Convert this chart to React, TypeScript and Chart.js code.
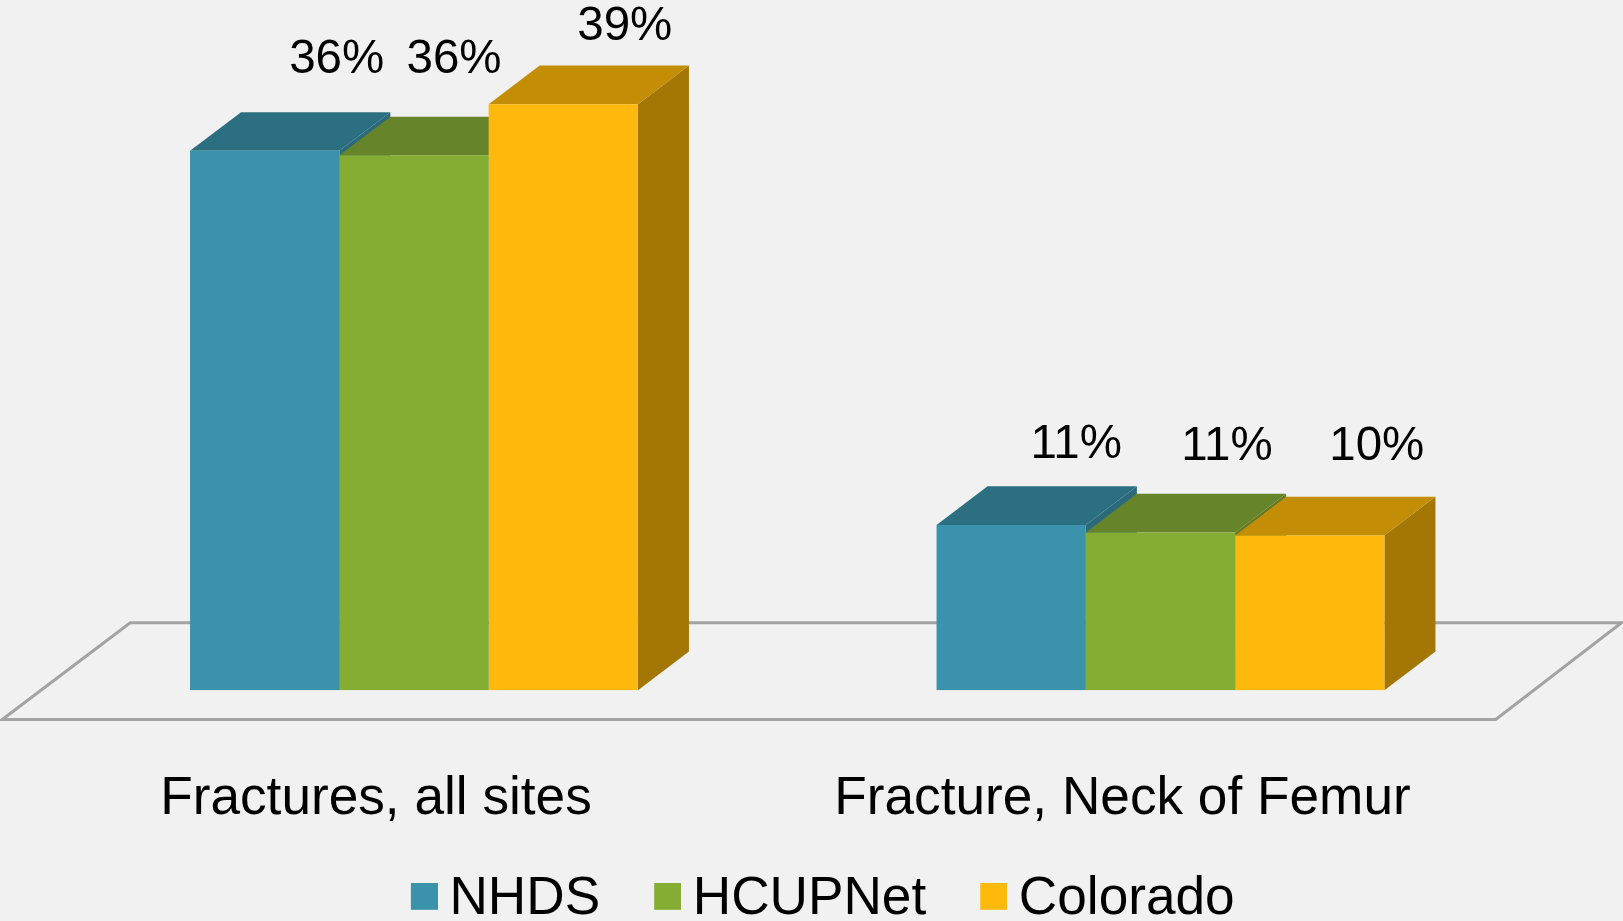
import React, { useEffect, useRef } from "react";
import { Chart, registerables } from "chart.js";

Chart.register(...registerables);

const categories = ["Fractures, all sites", "Fracture, Neck of Femur"];
const seriesNames = ["NHDS", "HCUPNet", "Colorado"];
const nhdsValues = [35.9, 11.0];
const hcupValues = [35.6, 10.5];
const coloradoValues = [39.0, 10.3];
const nhdsLabels = ["36%", "11%"];
const hcupLabels = ["36%", "11%"];
const coloradoLabels = ["39%", "10%"];

// label placement relative to the bar: [centre offset x, baseline offset y]
const nhdsLabelOffsets = [[72, -77.5], [65, -67]];
const hcupLabelOffsets = [[40, -82.5], [66.5, -72.7]];
const coloradoLabelOffsets = [[61.5, -64], [67, -75.7]];

const FONT = '"Liberation Sans", Arial, sans-serif';
const BACKGROUND = "#f1f1f1";
const DEPTH_X = 51;
const DEPTH_Y = 38.6;

const frontColors = ["#3a93aa", "#86ad33", "#ffb80c"];
const topColors = ["#2c6f81", "#66842a", "#c38e05"];
const sideColors = ["#2a6a7c", "#5f7b25", "#a37605"];
const labelSets = [nhdsLabels, hcupLabels, coloradoLabels];
const offsetSets = [nhdsLabelOffsets, hcupLabelOffsets, coloradoLabelOffsets];

// legend swatch: a 27px square set into a transparent sprite so it sits
// slightly right of and above the centre point the legend draws it at
const makeSwatch = (color: string) => {
  const c = document.createElement("canvas");
  c.width = 31;
  c.height = 33;
  const g = c.getContext("2d") as CanvasRenderingContext2D;
  g.fillStyle = color;
  g.fillRect(4, 0, 27, 27);
  return c;
};

const poly = (ctx: CanvasRenderingContext2D, pts: number[][], fill: string) => {
  ctx.beginPath();
  pts.forEach((p, i) => (i ? ctx.lineTo(p[0], p[1]) : ctx.moveTo(p[0], p[1])));
  ctx.closePath();
  ctx.fillStyle = fill;
  ctx.fill();
};

const scenePlugin = {
  id: "scene3d",
  beforeDraw(chart: any) {
    const { ctx, width, height, chartArea } = chart;
    // the legend's row padding is also its item gap, so its box is placed here
    if (chart.legend) {
      chart.legend.top = height - 113.3;
      chart.legend.left = 16.75;
      chart.legend.right = width + 16.75;
    }
    ctx.save();
    ctx.fillStyle = BACKGROUND;
    ctx.fillRect(0, 0, width, height);
    // floor of the 3D plot
    const { left, right, bottom } = chartArea;
    ctx.beginPath();
    ctx.moveTo(left - 38.5, bottom + 29.3);
    ctx.lineTo(right - 38, bottom + 29.3);
    ctx.lineTo(right + 87.5, bottom - 67.3);
    ctx.lineTo(left + 89.5, bottom - 67.3);
    ctx.closePath();
    ctx.strokeStyle = "#a3a3a3";
    ctx.lineWidth = 3;
    ctx.stroke();
    ctx.restore();
  },
  beforeDatasetsDraw(chart: any) {
    const { ctx } = chart;
    ctx.save();
    chart.data.datasets.forEach((_: any, d: number) => {
      chart.getDatasetMeta(d).data.forEach((bar: any) => {
        const { x, y, base, width } = bar.getProps(["x", "y", "base", "width"], true);
        const r = x + width / 2;
        const l = x - width / 2;
        poly(ctx, [[r, y], [r + DEPTH_X, y - DEPTH_Y], [r + DEPTH_X, base - DEPTH_Y], [r, base]], sideColors[d]);
        poly(ctx, [[l, y], [l + DEPTH_X, y - DEPTH_Y], [r + DEPTH_X, y - DEPTH_Y], [r, y]], topColors[d]);
      });
    });
    ctx.restore();
  },
  afterDatasetsDraw(chart: any) {
    const { ctx } = chart;
    ctx.save();
    ctx.font = `47.5px ${FONT}`;
    ctx.fillStyle = "#000";
    ctx.textAlign = "center";
    ctx.textBaseline = "alphabetic";
    chart.data.datasets.forEach((_: any, d: number) => {
      chart.getDatasetMeta(d).data.forEach((bar: any, i: number) => {
        const [dx, dy] = offsetSets[d][i];
        ctx.fillText(labelSets[d][i], bar.x + dx, bar.y + dy);
      });
    });
    ctx.restore();
  },
};

export default function App() {
  const ref = useRef<HTMLCanvasElement | null>(null);

  useEffect(() => {
    document.body.style.margin = "0";
    document.body.style.background = BACKGROUND;
    const chart = new Chart(ref.current as HTMLCanvasElement, {
      type: "bar",
      data: {
        labels: categories,
        datasets: [nhdsValues, hcupValues, coloradoValues].map((data, i) => ({
          label: seriesNames[i],
          data,
          backgroundColor: frontColors[i],
          borderWidth: 0,
          categoryPercentage: 0.6,
          barPercentage: 1,
        })),
      },
      options: {
        animation: false,
        responsive: false,
        maintainAspectRatio: false,
        layout: { padding: { left: 40.75, right: 89.25, top: 14, bottom: -80 } },
        scales: {
          x: {
            grid: { display: false, drawTicks: false },
            border: { display: false },
            ticks: {
              autoSkip: false,
              maxRotation: 0,
              minRotation: 0,
              padding: 77,
              labelOffset: -38,
              color: "#000",
              font: { family: FONT, size: 53.2 },
            },
          },
          y: { display: false, min: 0, max: 45 },
        },
        plugins: {
          tooltip: { enabled: false },
          legend: {
            position: "bottom",
            maxHeight: 93,
            labels: {
              usePointStyle: true,
              boxWidth: 1,
              boxHeight: 27,
              padding: 65,
              color: "#000",
              font: { family: FONT, size: 53.2 },
              generateLabels: (c: any) =>
                (Chart.defaults.plugins.legend.labels as any)
                  .generateLabels(c)
                  .map((item: any, i: number) => ({
                    ...item,
                    pointStyle: makeSwatch(frontColors[i]),
                  })),
            },
          },
        },
      },
      plugins: [scenePlugin],
    } as any);
    return () => chart.destroy();
  }, []);

  return (
    <canvas
      ref={ref}
      width={1623}
      height={921}
      style={{ display: "block", width: 1623, height: 921 }}
    />
  );
}
